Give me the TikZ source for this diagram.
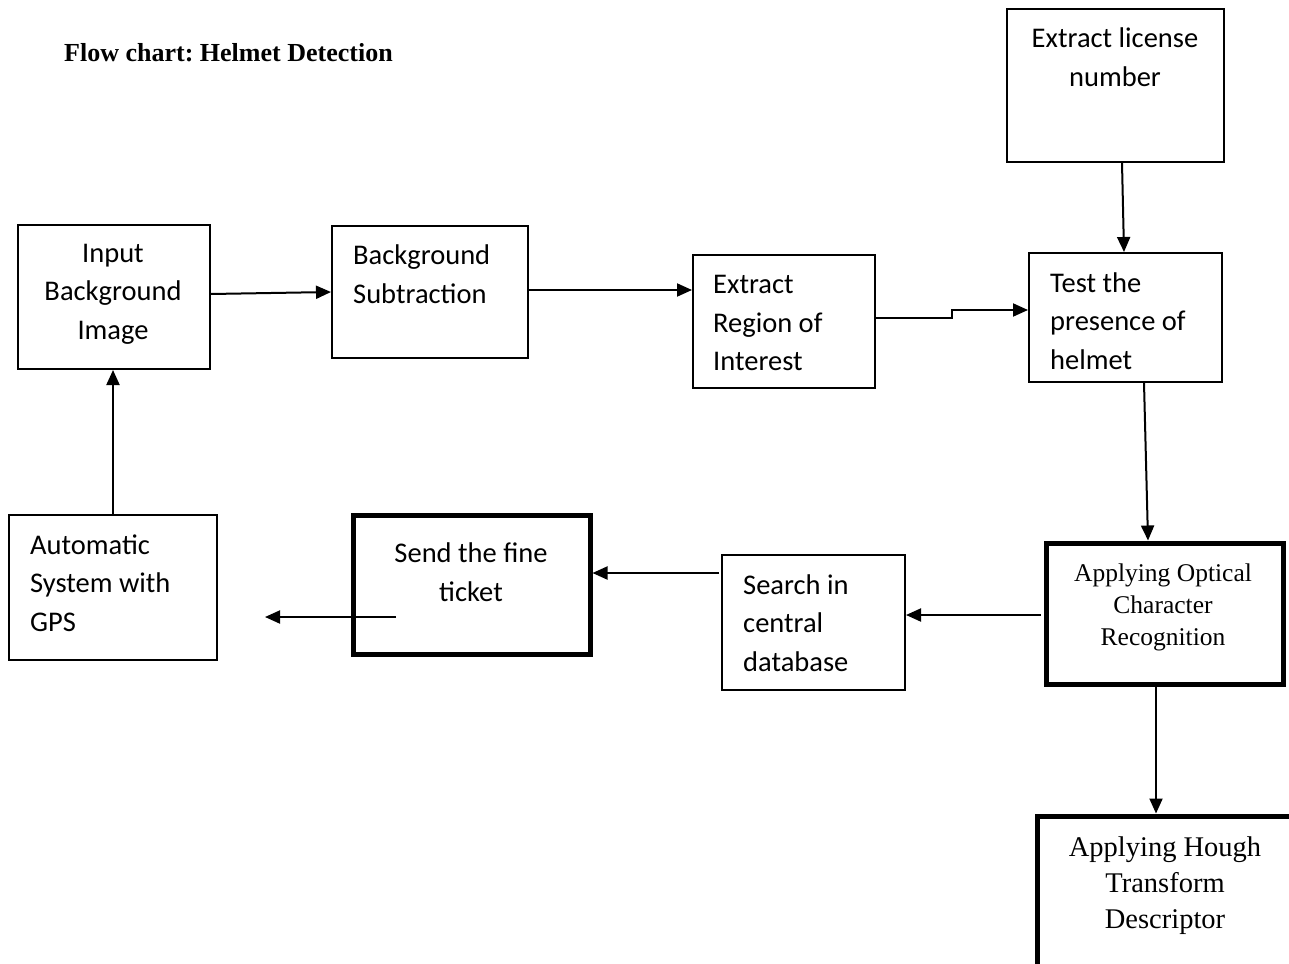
\documentclass[tikz,border=0pt]{standalone}
\usepackage{fontspec}
\setmainfont{Liberation Serif}
\newfontfamily\calfont{Carlito}
\usetikzlibrary{arrows.meta}
\frenchspacing
\tikzset{
  box/.style={draw, line width=2pt, rectangle, inner sep=0pt},
  thickbox/.style={draw, line width=5pt, rectangle, inner sep=0pt},
  ctxt/.style={inner sep=0pt, font=\calfont\fontsize{28.5}{38.5}\selectfont},
  ttxt/.style={inner sep=0pt, align=center},
  conn/.style={line width=2pt, -{Triangle[length=15pt,width=13pt]}}
}
\begin{document}
\begin{tikzpicture}[x=1pt,y=-1pt]
\useasboundingbox (0,0) rectangle (1289,963);
\clip (0,0) rectangle (1289,963);
% title
\node[inner sep=0pt, anchor=west, font=\bfseries\fontsize{26}{30}\selectfont] (title) at (64,53) {Flow chart: Helmet Detection};
% boxes
\node[box, minimum width=192pt, minimum height=144pt] (inp) at (114,297) {};
\node[box, minimum width=196pt, minimum height=132pt] (bgs) at (430,292) {};
\node[box, minimum width=182pt, minimum height=133pt] (roi) at (784,321.5) {};
\node[box, minimum width=193pt, minimum height=129pt] (test) at (1125.5,317.5) {};
\node[box, minimum width=217pt, minimum height=153pt] (lic) at (1115.5,85.5) {};
\node[thickbox, minimum width=237pt, minimum height=141pt] (ocr) at (1164.5,613.5) {};
\node[thickbox, minimum width=263pt, minimum height=164pt] (hough) at (1168.5,898) {};
\node[box, minimum width=183pt, minimum height=135pt] (srch) at (813.5,622.5) {};
\node[thickbox, minimum width=237pt, minimum height=139pt] (send) at (471.5,584.5) {};
\node[box, minimum width=208pt, minimum height=145pt] (auto) at (113,587.5) {};
% texts
\node[ctxt, align=center] (inpt) at (113,294) {Input\\Background\\Image};
\node[ctxt, align=left, anchor=west] (bgst) at (353,274) {Background\\Subtraction};
\node[ctxt, align=left, anchor=west] (roit) at (713,323) {Extract\\Region of\\Interest};
\node[ctxt, align=left, anchor=west] (testt) at (1050,321) {Test the\\presence of\\helmet};
\node[ctxt, align=center] (lict) at (1115,57) {Extract license\\number};
\node[ttxt, font=\fontsize{25.5}{32}\selectfont] (ocrt) at (1163,607) {Applying Optical\\Character\\Recognition};
\node[ttxt, font=\fontsize{28.5}{36}\selectfont] (hought) at (1165,886) {Applying Hough\\Transform\\Descriptor};
\node[ctxt, align=left, anchor=west] (srcht) at (743,623) {Search in\\central\\database};
\node[ctxt, align=center] (sendt) at (471,572) {Send the fine\\ticket};
\node[ctxt, align=left, anchor=west] (autot) at (30,583) {Automatic\\System with\\GPS};
% connectors
\draw[conn] ([yshift=3pt]inp.east) -- (bgs.west);
\draw[conn] ([yshift=2pt]bgs.east) -- ([yshift=2pt]bgs.east -| roi.west);
\draw[conn] ([yshift=3.5pt]roi.east) -- ++(76,0) |- ([yshift=7.5pt]test.west);
\draw[conn] ([xshift=6.5pt]lic.south) -- ([xshift=-1.5pt]test.north);
\draw[conn] ([xshift=18.5pt]test.south) -- ([xshift=-16.5pt]ocr.north);
\draw[conn] ([xshift=-3pt,yshift=-1.5pt]ocr.west) -- ([yshift=-1.5pt]ocr.west -| srch.east);
\draw[conn] ([xshift=-2pt,yshift=49.5pt]srch.west) -- ([yshift=49.5pt]srch.west -| send.east);
\coordinate (autoin) at (265,617);
\draw[conn] ([xshift=-75.5pt,yshift=-32.5pt]send.center) -- (autoin);
\draw[conn] (auto.north) -- ([xshift=-1pt]inp.south);
\draw[conn] ([xshift=-8.5pt]ocr.south) -- ([xshift=-12.5pt]hough.north);
\end{tikzpicture}
\end{document}
